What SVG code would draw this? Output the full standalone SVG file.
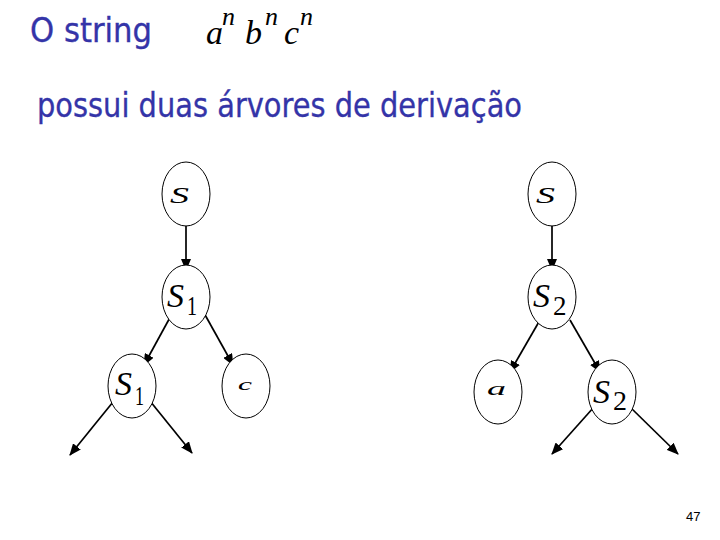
<svg xmlns="http://www.w3.org/2000/svg" width="720" height="540" viewBox="0 0 720 540">
<defs>
<marker id="ah" viewBox="0 0 12 10" refX="11" refY="5" markerWidth="12" markerHeight="10" markerUnits="userSpaceOnUse" orient="auto">
<path d="M0,0 L12,5 L0,10 z" fill="#000"/>
</marker>
</defs>
<style>
.title{font-family:"DejaVu Sans Condensed","DejaVu Sans","Open Sans",sans-serif;fill:#3434a8;font-size:33px;stroke:#3434a8;stroke-width:0.3}
.node ellipse{fill:#fff;stroke:#000;stroke-width:1}
.m{font-family:"Liberation Serif","DejaVu Serif",serif;fill:#000}
.mi{font-style:italic}
.edge{stroke:#000;stroke-width:1.7;fill:none;marker-end:url(#ah)}
.pg{font-family:"Liberation Sans",Arial,sans-serif;font-size:13px;fill:#000}
</style>
<rect width="720" height="540" fill="#fff"/>
<text class="title" x="30" y="42" textLength="122" lengthAdjust="spacingAndGlyphs">O string</text>
<g id="formula">
<text class="m mi" x="206" y="44" font-size="34">a</text>
<text class="m mi" x="222" y="25" font-size="26">n</text>
<text class="m mi" x="245" y="44" font-size="34">b</text>
<text class="m mi" x="265" y="25" font-size="26">n</text>
<text class="m mi" x="284" y="44" font-size="34">c</text>
<text class="m mi" x="300" y="25" font-size="26">n</text>
</g>
<text class="title" x="37" y="117" textLength="485" lengthAdjust="spacingAndGlyphs">possui duas árvores de derivação</text>

<g id="connectors">
<line class="edge" x1="186" y1="217" x2="186" y2="270"/>
<line class="edge" x1="173" y1="312" x2="144" y2="365"/>
<line class="edge" x1="204" y1="313" x2="233" y2="365"/>
<line class="edge" x1="113" y1="402" x2="70" y2="455"/>
<line class="edge" x1="150" y1="401" x2="192" y2="453"/>
<line class="edge" x1="552" y1="217" x2="552" y2="270"/>
<line class="edge" x1="540" y1="320" x2="510" y2="372"/>
<line class="edge" x1="570" y1="320" x2="600" y2="372"/>
<line class="edge" x1="594" y1="407" x2="552" y2="454"/>
<line class="edge" x1="630" y1="407" x2="678" y2="454"/>
</g>

<g id="L_S" class="node">
<ellipse cx="186" cy="194" rx="24" ry="32"/>
<text class="m mi" x="170" y="203" font-size="24" textLength="19" lengthAdjust="spacingAndGlyphs">S</text>
</g>
<g id="L_S1" class="node">
<ellipse cx="186" cy="297" rx="24" ry="32"/>
<text class="m mi" x="167" y="307" font-size="34">S</text>
<text class="m" x="187" y="315" font-size="27" textLength="10" lengthAdjust="spacingAndGlyphs">1</text>
</g>
<g id="L_S1b" class="node">
<ellipse cx="132" cy="386" rx="24" ry="32"/>
<text class="m mi" x="115" y="395" font-size="34">S</text>
<text class="m" x="135" y="405" font-size="27" textLength="9" lengthAdjust="spacingAndGlyphs">1</text>
</g>
<g id="L_c" class="node">
<ellipse cx="246" cy="386" rx="24" ry="32"/>
<text class="m mi" x="238" y="390" font-size="17" textLength="14" lengthAdjust="spacingAndGlyphs">c</text>
</g>

<g id="R_S" class="node">
<ellipse cx="552" cy="194" rx="24" ry="32"/>
<text class="m mi" x="536" y="203" font-size="24" textLength="19" lengthAdjust="spacingAndGlyphs">S</text>
</g>
<g id="R_S2" class="node">
<ellipse cx="552" cy="297" rx="24" ry="32"/>
<text class="m mi" x="533" y="307" font-size="34">S</text>
<text class="m" x="553" y="315" font-size="27">2</text>
</g>
<g id="R_a" class="node">
<ellipse cx="498" cy="392" rx="24" ry="32"/>
<text class="m mi" x="487" y="395" font-size="19" textLength="19" lengthAdjust="spacingAndGlyphs">a</text>
</g>
<g id="R_S2b" class="node">
<ellipse cx="612" cy="392" rx="24" ry="32"/>
<text class="m mi" x="593" y="403" font-size="34">S</text>
<text class="m" x="613" y="410" font-size="27" textLength="14" lengthAdjust="spacingAndGlyphs">2</text>
</g>

<text class="pg" x="686" y="521">47</text>
</svg>
